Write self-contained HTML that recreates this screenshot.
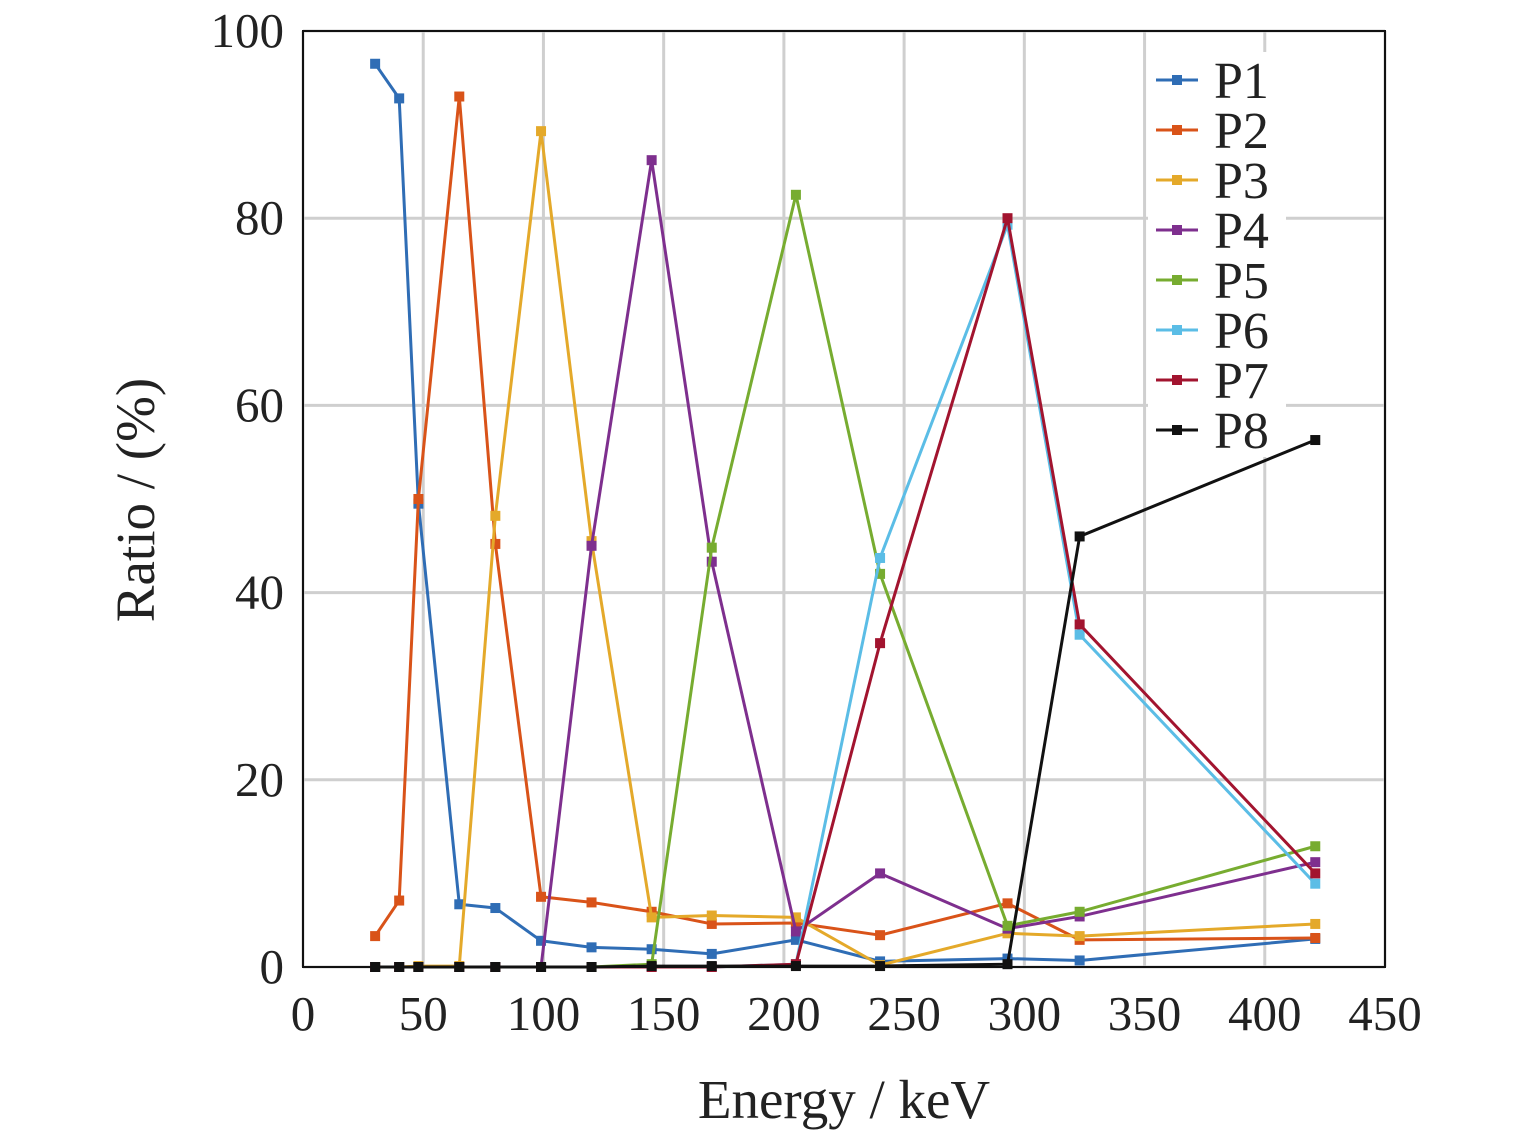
<!DOCTYPE html>
<html><head><meta charset="utf-8">
<style>
html,body{margin:0;padding:0;background:#fff;}
svg text{font-family:"Liberation Serif",serif;fill:#222;}
</style></head>
<body>
<svg id="chart" width="1535" height="1134" viewBox="0 0 1535 1134" xmlns="http://www.w3.org/2000/svg">
<rect width="1535" height="1134" fill="#fff"/>
<g id="grid"></g>
<g id="legendbg"></g>
<g id="series"></g>
<rect x="303" y="31" width="1082" height="936" fill="none" stroke="#111" stroke-width="2"/>
<g id="ticks"></g>
<g id="legend"></g>
<text x="844" y="1118" font-size="55" text-anchor="middle">Energy / keV</text>
<text transform="translate(154,500) rotate(-90)" font-size="55" text-anchor="middle">Ratio / (%)</text>
</svg>
<script>
const energies = [30, 40, 48, 65, 80, 99, 120, 145, 170, 205, 240, 293, 323, 421];
const seriesNames = ["P1","P2","P3","P4","P5","P6","P7","P8"];
const p1 = [96.5, 92.8, 49.5, 6.7, 6.3, 2.8, 2.1, 1.9, 1.4, 2.9, 0.6, 0.9, 0.7, 3.0];
const p2 = [3.3, 7.1, 50.0, 93.0, 45.2, 7.5, 6.9, 5.9, 4.6, 4.7, 3.4, 6.8, 2.9, 3.1];
const p3 = [0, 0, 0.1, 0.1, 48.2, 89.3, 45.5, 5.3, 5.5, 5.3, 0.2, 3.6, 3.3, 4.6];
const p4 = [0, 0, 0, 0, 0, 0, 45.0, 86.2, 43.3, 3.8, 10.0, 4.1, 5.4, 11.2];
const p5 = [0, 0, 0, 0, 0, 0, 0, 0.3, 44.8, 82.5, 42.0, 4.4, 5.9, 12.9];
const p6 = [0, 0, 0, 0, 0, 0, 0, 0, 0, 0.3, 43.7, 79.3, 35.5, 8.9];
const p7 = [0, 0, 0, 0, 0, 0, 0, 0, 0, 0.3, 34.6, 80.0, 36.6, 10.0];
const p8 = [0, 0, 0, 0, 0, 0, 0, 0.1, 0.1, 0.1, 0.1, 0.3, 46.0, 56.3];
const xTicks = [0, 50, 100, 150, 200, 250, 300, 350, 400, 450];
const yTicks = [0, 20, 40, 60, 80, 100];
const colors = ["#2f6db5","#d95319","#e4a92a","#7e2f8e","#77ac30","#5bbde6","#a2142f","#111111"];
const allSeries = [p1,p2,p3,p4,p5,p6,p7,p8];

const NS="http://www.w3.org/2000/svg";
const X0=303,X1=1385,Y0=967,Y1=31;
const xs=v=>X0+(v/450)*(X1-X0);
const ys=v=>Y0-(v/100)*(Y0-Y1);
function mk(tag,attrs,parent){const e=document.createElementNS(NS,tag);for(const k in attrs)e.setAttribute(k,attrs[k]);parent.appendChild(e);return e;}
const grid=document.getElementById('grid'),ticks=document.getElementById('ticks'),ser=document.getElementById('series'),leg=document.getElementById('legend'),legbg=document.getElementById('legendbg');
xTicks.forEach(t=>{
  const g=mk('line',{x1:xs(t),x2:xs(t),y1:Y1,y2:Y0,stroke:'#cfcfcf','stroke-width':3},grid);
  
  
  const l=mk('text',{x:xs(t),y:1030,'font-size':49,'text-anchor':'middle'},ticks);
  l.textContent=t;
  
  
});
yTicks.forEach(t=>{
  const g=mk('line',{x1:X0,x2:X1,y1:ys(t),y2:ys(t),stroke:'#cfcfcf','stroke-width':3},grid);
  
  
  const l=mk('text',{x:284,y:ys(t)+16,'font-size':49,'text-anchor':'end'},ticks);
  l.textContent=t;
  
  
});
const lb=mk('rect',{x:1148,y:52,width:138,height:405,fill:'#fff'},legbg);


allSeries.forEach((d,i)=>{
  const pts=d.map((v,j)=>xs(energies[j])+','+ys(v)).join(' ');
  const pl=mk('polyline',{points:pts,fill:'none',stroke:colors[i],'stroke-width':3,'stroke-linejoin':'round'},ser);
  
  
  d.forEach((v,j)=>{
    const m=mk('rect',{x:xs(energies[j])-5,y:ys(v)-5,width:10,height:10,fill:colors[i]},ser);
    
    
  });
});
seriesNames.forEach((n,i)=>{
  const y=80+i*50;
  const ln=mk('line',{x1:1156,x2:1198,y1:y,y2:y,stroke:colors[i],'stroke-width':3},leg);
  
  
  const mm=mk('rect',{x:1172,y:y-5,width:10,height:10,fill:colors[i]},leg);
  
  
  const t=mk('text',{x:1214,y:y+18,'font-size':52},leg);
  t.textContent=n;
  
  
});
</script>
</body></html>
